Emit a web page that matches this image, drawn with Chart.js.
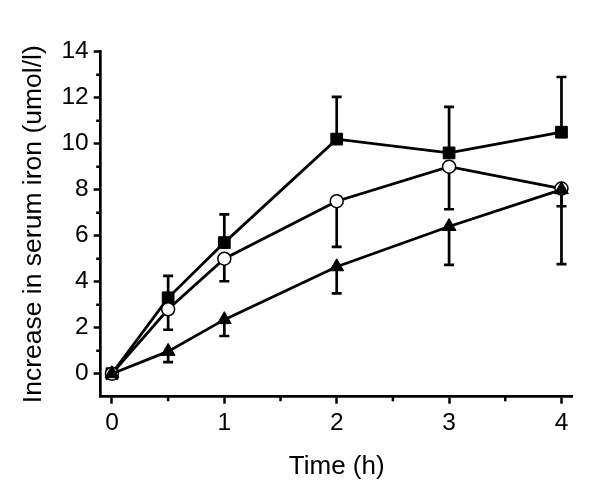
<!DOCTYPE html>
<html>
<head>
<meta charset="utf-8">
<script src="https://cdn.jsdelivr.net/npm/chart.js@4/dist/chart.umd.min.js"></script>
<style>
html,body{margin:0;padding:0;background:#fff;}
#wrap{width:601px;height:494px;position:relative;}
</style>
</head>
<body>
<div id="wrap"><canvas id="c" width="601" height="494"></canvas></div>
<script>
// ---- data ----
const times = [0, 0.5, 1, 2, 3, 4];
const squareVals = [0, 3.3, 5.7, 10.2, 9.6, 10.5];
const squareErrUp = [0, 0.95, 1.23, 1.84, 2.0, 2.4];
const circleVals = [0, 2.8, 5.0, 7.5, 9.0, 8.05];
const circleErrDown = [0, 0.89, 0.98, 1.99, 1.85, 0.77];
const triangleVals = [0, 0.97, 2.35, 4.65, 6.4, 8.0];
const triangleErrDown = [0, 0.47, 0.71, 1.16, 1.67, 3.24];
const xTicks = [0, 1, 2, 3, 4];
const xMinorTicks = [0.5, 1.5, 2.5, 3.5];
const yTicks = [0, 2, 4, 6, 8, 10, 12, 14];
const yMinorTicks = [1, 3, 5, 7, 9, 11, 13];
const xTitle = 'Time (h)';
const yTitle = 'Increase in serum iron (umol/l)';

const FONT = '"Liberation Sans", Arial, sans-serif';
const toPts = (vals) => times.map((t, i) => ({x: t, y: vals[i]}));

const errorBars = [
  {dataset: 0, errs: squareErrUp, dir: 1},
  {dataset: 1, errs: circleErrDown, dir: -1},
  {dataset: 2, errs: triangleErrDown, dir: -1}
];

const errorPlugin = {
  id: 'errbars',
  beforeDatasetsDraw(chart) {
    const ctx = chart.ctx, xs = chart.scales.x, ys = chart.scales.y;
    ctx.save();
    ctx.strokeStyle = '#000';
    ctx.lineWidth = 2.7;
    errorBars.forEach(eb => {
      const vals = chart.data.datasets[eb.dataset].data;
      vals.forEach((p, i) => {
        const e = eb.errs[i];
        if (!e) return;
        const px = xs.getPixelForValue(p.x);
        const py0 = ys.getPixelForValue(p.y);
        const py1 = ys.getPixelForValue(p.y + eb.dir * e);
        ctx.beginPath();
        ctx.moveTo(px, py0);
        ctx.lineTo(px, py1);
        ctx.moveTo(px - 5, py1);
        ctx.lineTo(px + 5, py1);
        ctx.stroke();
      });
    });
    ctx.restore();
  }
};

const minorTickPlugin = {
  id: 'minorTicks',
  afterDraw(chart) {
    const ctx = chart.ctx, xs = chart.scales.x, ys = chart.scales.y;
    const ca = chart.chartArea;
    ctx.save();
    ctx.strokeStyle = '#000';
    ctx.lineWidth = 2.5;
    ctx.beginPath();
    xMinorTicks.forEach(v => {
      const px = xs.getPixelForValue(v);
      ctx.moveTo(px, ca.bottom);
      ctx.lineTo(px, ca.bottom + 4.5);
    });
    yMinorTicks.forEach(v => {
      const py = ys.getPixelForValue(v);
      ctx.moveTo(ca.left, py);
      ctx.lineTo(ca.left - 4.5, py);
    });
    ctx.stroke();
    ctx.restore();
  }
};

new Chart(document.getElementById('c'), {
  type: 'line',
  data: {
    datasets: [
      {
        data: toPts(squareVals), order: 2,
        borderColor: '#000', borderWidth: 2.8, tension: 0,
        pointStyle: 'rect', pointRadius: 8.3,
        pointBackgroundColor: '#000', pointBorderColor: '#000', pointBorderWidth: 1
      },
      {
        data: toPts(circleVals), order: 1,
        borderColor: '#000', borderWidth: 2.8, tension: 0,
        pointStyle: 'circle', pointRadius: 6.5,
        pointBackgroundColor: '#fff', pointBorderColor: '#000', pointBorderWidth: 1.5
      },
      {
        data: toPts(triangleVals), order: 0,
        borderColor: '#000', borderWidth: 2.8, tension: 0,
        pointStyle: 'triangle', pointRadius: 8,
        pointBackgroundColor: '#000', pointBorderColor: '#000', pointBorderWidth: 1
      }
    ]
  },
  options: {
    responsive: false,
    animation: false,
    clip: false,
    layout: {padding: {top: 51.7, right: 28.3, left: 0, bottom: 0}},
    plugins: {legend: {display: false}, tooltip: {enabled: false}},
    scales: {
      x: {
        type: 'linear', min: -0.1, max: 4.1,
        afterBuildTicks(s) { s.ticks = xTicks.map(v => ({value: v})); },
        afterFit(s) { s.height = 97.3; },
        border: {display: true, color: '#000', width: 2.7},
        grid: {drawOnChartArea: false, drawTicks: true, tickLength: 7, tickWidth: 2.5, tickColor: '#000'},
        ticks: {color: '#000', font: {family: FONT, size: 24.5}, padding: 5, maxRotation: 0},
        title: {display: true, text: xTitle, color: '#000', font: {family: FONT, size: 26}, padding: {top: 0, bottom: 12}}
      },
      y: {
        type: 'linear', min: -1, max: 14,
        afterBuildTicks(s) { s.ticks = yTicks.map(v => ({value: v})); },
        afterFit(s) { s.width = 100.7; },
        border: {display: true, color: '#000', width: 2.7},
        grid: {drawOnChartArea: false, drawTicks: true, tickLength: 7, tickWidth: 2.5, tickColor: '#000'},
        ticks: {color: '#000', font: {family: FONT, size: 24.5}, padding: 5},
        title: {display: true, text: yTitle, color: '#000', font: {family: FONT, size: 26.5}, padding: {top: 18, bottom: 0}}
      }
    }
  },
  plugins: [errorPlugin, minorTickPlugin]
});
</script>
</body>
</html>
